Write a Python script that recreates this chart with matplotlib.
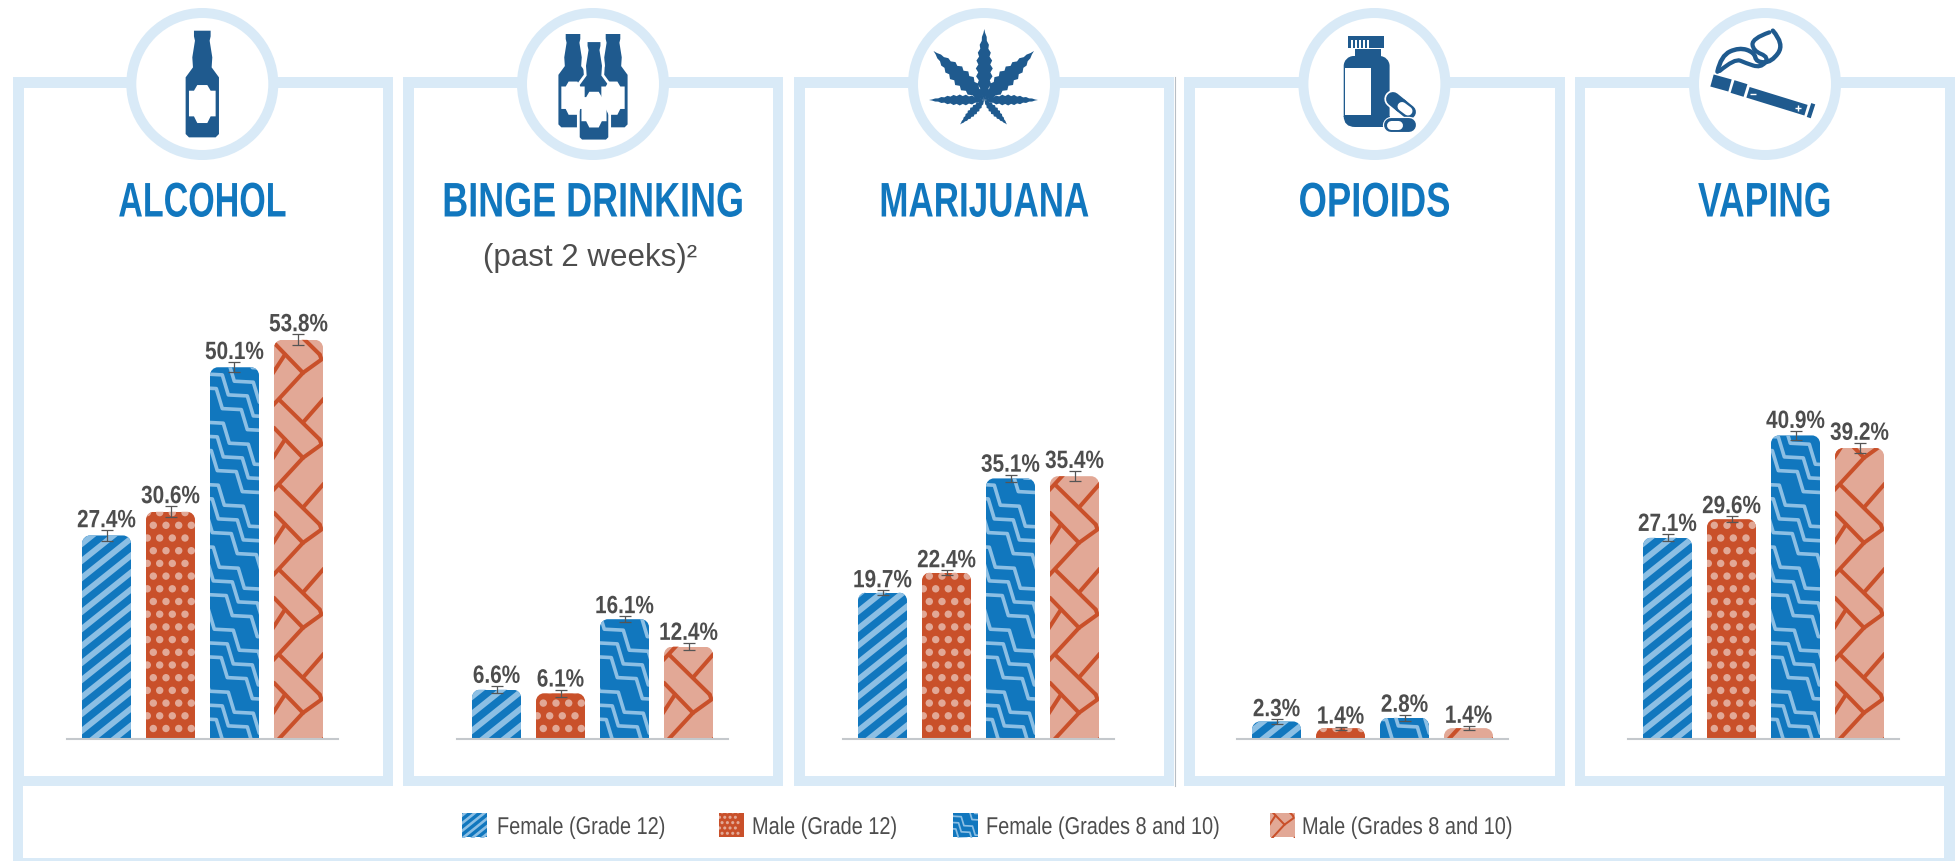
import numpy as np
import matplotlib
matplotlib.use("Agg")
import matplotlib.pyplot as plt
from matplotlib.collections import LineCollection, PatchCollection
from matplotlib.patches import Circle, PathPatch, Rectangle
from matplotlib.path import Path
from matplotlib.patheffects import AbstractPathEffect
from matplotlib.transforms import Affine2D

W, H = 1959, 862

# data
substances = ["ALCOHOL", "BINGE DRINKING", "MARIJUANA", "OPIOIDS", "VAPING"]
series_names = ["Female (Grade 12)", "Male (Grade 12)", "Female (Grades 8 and 10)", "Male (Grades 8 and 10)"]
alcohol = [27.4, 30.6, 50.1, 53.8]
binge = [6.6, 6.1, 16.1, 12.4]
marijuana = [19.7, 22.4, 35.1, 35.4]
opioids = [2.3, 1.4, 2.8, 1.4]
vaping = [27.1, 29.6, 40.9, 39.2]
alcohol_err = [0.7, 0.75, 0.7, 0.75]
binge_err = [0.5, 0.5, 0.4, 0.5]
marijuana_err = [0.3, 0.3, 0.5, 0.7]
opioids_err = [0.3, 0.2, 0.4, 0.3]
vaping_err = [0.5, 0.4, 0.6, 0.7]
values = [alcohol, binge, marijuana, opioids, vaping]
errors = [alcohol_err, binge_err, marijuana_err, opioids_err, vaping_err]

# colours
FRAME = "#D9EAF7"
TITLE = "#1177BE"
ICON = "#1F5A8E"
TEXT = "#4D4D4D"
BLUE = "#1177BE"
LIGHT_BLUE = "#8CBFE4"
RED = "#C9502A"
SALMON = "#E2A896"
AXIS = "#C4C8CC"

plt.rcParams["font.family"] = ["Liberation Sans", "DejaVu Sans"]

# panel layout in pixels
panel_x = [(13, 393), (403, 783), (794, 1174), (1184, 1565), (1574.5, 1955)]
circle_x = [202.3, 593, 984, 1374.4, 1765]
bar_left = [82, 472, 858, 1252, 1643]
title_squeeze = [0.70, 0.74, 0.72, 0.75, 0.73]
BASE_Y = 739.5
PX_PER_PCT = 7.41
BAR_W = 49
BAR_STEP = 64
CORNER = 8

fig = plt.figure(figsize=(W / 100, H / 100), dpi=100, facecolor="white")
px = Affine2D().scale(1, -1).translate(0, H)  # pixel coordinates, y down

bg = fig.add_axes([0, 0, 1, 1])
bg.set_xlim(0, W)
bg.set_ylim(H, 0)
bg.axis("off")


class Squeeze(AbstractPathEffect):
    # narrows the glyphs horizontally, there is no condensed family installed
    def __init__(self, sx, centered=True):
        super().__init__()
        self.sx = sx
        self.centered = centered

    def draw_path(self, renderer, gc, tpath, affine, rgbFace=None):
        ext = tpath.get_extents()
        mid = (ext.x0 + ext.x1) / 2 if self.centered else 0
        narrow = Affine2D().translate(-mid, 0).scale(self.sx, 1).translate(mid, 0)
        renderer.draw_path(gc, tpath, narrow + affine, rgbFace)


def rounded_top(x0, x1, top, base, r):
    r = min(r, base - top)
    k = 0.55 * r
    verts = [(x0, base), (x0, top + r), (x0, top + r - k), (x0 + r - k, top), (x0 + r, top),
             (x1 - r, top), (x1 - r + k, top), (x1, top + r - k), (x1, top + r), (x1, base), (x0, base)]
    codes = [Path.MOVETO, Path.LINETO, Path.CURVE4, Path.CURVE4, Path.CURVE4,
             Path.LINETO, Path.CURVE4, Path.CURVE4, Path.CURVE4, Path.LINETO, Path.CLOSEPOLY]
    return Path(verts, codes)


def add_lines(ax, segs, color, lw, clip, z, cap="butt"):
    lc = LineCollection(segs, colors=color, linewidths=lw, transform=px, zorder=z,
                        capstyle=cap, joinstyle="round")
    ax.add_collection(lc, autolim=False)
    lc.set_clip_path(clip, px)


def stripes(ax, x0, x1, top, base, clip, s=1.0, z=2.5):
    period = 17 * s
    slope = 0.8
    span = x1 - x0 + 10
    segs = []
    y = base + span * slope
    while y > top - 5:
        segs.append([(x0 - 5, y), (x1 + 5, y - span * slope)])
        y -= period
    add_lines(ax, segs, LIGHT_BLUE, 4.2 * s, clip, z)


def dots(ax, x0, x1, top, base, clip, s=1.0, z=2.5):
    rows_a = [7.3, 20, 32.7, 45.3]
    rows_b = [1.3, 13.7, 26.3, 39]
    circles = []
    row = 0
    y = base - 10 * s
    while y > top - 5:
        for dx in (rows_a if row % 2 == 0 else rows_b):
            if x0 + dx * s < x1 + 4:
                circles.append(Circle((x0 + dx * s, y), 3.7 * s))
        y -= 12.7 * s
        row += 1
    pc = PatchCollection(circles, facecolor=SALMON, edgecolor="none", transform=px, zorder=z)
    ax.add_collection(pc, autolim=False)
    pc.set_clip_path(clip, px)


def zigzag(ax, x0, x1, top, base, clip, s=1.0, z=2.5):
    segs = []
    n_groups = int((base - top) / (62 * s)) + 4
    for g in range(-2, n_groups):
        for line in range(3):
            cx = 18.3 - 6 * line + 5 * g
            cy = -108.3 + 13.7 * line - 62 * g + 62
            pts = []
            for n in range(-5, 6):
                px0, py0 = cx + 25 * n, cy + 21 * n
                pts += [(px0, py0), (px0 + 6, py0 + 20)]
            segs.append([(x0 + a * s, base + b * s) for a, b in pts])
    add_lines(ax, segs, LIGHT_BLUE, 2.5 * s + 0.1, clip, z)


# one herringbone tile of the brick fill, measured from the bar's left edge
brick_tile = [
    [(5, 10), (45.7, 50)],
    [(0, 38.3), (29, 68.3)],
    [(45.7, 50), (47.5, 55), (29, 68.3)],
    [(29, 33), (50, 9)],
    [(29, 68.3), (-3.3, 103.3)],
    [(11, 50), (-2, 70)],
]


def bricks(ax, x0, x1, top, base, clip, s=1.0, z=2.5):
    segs = []
    for k in range(-1, int((base - top) / (85 * s)) + 3):
        for seg in brick_tile:
            segs.append([(x0 + a * s, base + (b - 9 - 85 * k) * s) for a, b in seg])
    add_lines(ax, segs, RED, 2.9 * max(s, 0.5), clip, z, cap="round")


fills = [(BLUE, stripes), (RED, dots), (BLUE, zigzag), (SALMON, bricks)]


# frames
for x0, x1 in panel_x:
    bg.add_patch(Rectangle((x0, 78), x1 - x0, 787 - 78, fc=FRAME, ec="none", zorder=1))
    bg.add_patch(Rectangle((x0 + 10.5, 89), x1 - x0 - 21, 777 - 89, fc="white", ec="none", zorder=1.1))
bg.add_patch(Rectangle((13, 787), 1955 - 13, H - 787, fc=FRAME, ec="none", zorder=1))
bg.add_patch(Rectangle((23, 787), 1944 - 23, 859 - 787, fc="white", ec="none", zorder=1.1))
bg.plot([1174.5, 1174.5], [78, 787], color="#B8BEC4", lw=0.8, zorder=1.2)
for cx in circle_x:
    bg.add_patch(Circle((cx, 85), 71, fc="white", ec=FRAME, lw=7.2, zorder=1.5))


# icons
def bottle(x, top, s, halo=False):
    half = [(-25, 0), (-25, 17), (-22, 30), (-30, 80), (-28, 110), (-50, 140), (-50, 310), (-40, 320)]
    pts = half + [(-a, b) for a, b in half[::-1]]
    verts = [(x + a * s / 3, top + b * s / 3) for a, b in pts]
    bg.add_patch(plt.Polygon(verts, closed=True, fc=ICON, ec="white" if halo else "none",
                             lw=2 if halo else 0, zorder=3))
    label = [(-40, 180), (-25, 180), (-15, 163), (15, 163), (25, 180), (40, 180),
             (40, 257), (25, 257), (15, 277), (-15, 277), (-25, 257), (-40, 257)]
    bg.add_patch(plt.Polygon([(x + a * s / 3, top + b * s / 3) for a, b in label], closed=True,
                             fc="white", ec="none", zorder=3.1))


def leaflet(cx, cy, tip_x, tip_y, half_w):
    dx, dy = tip_x - cx, tip_y - cy
    length = np.hypot(dx, dy)
    ux, uy = dx / length, dy / length
    nx, ny = -uy, ux
    teeth = 9
    side_a, side_b = [], []
    for i in range(teeth * 2 + 1):
        t = i / (teeth * 2)
        w = half_w * np.sin(np.pi * t ** 0.8) * (1.0 if i % 2 == 0 else 0.72)
        d = length * t
        side_a.append((cx + ux * d + nx * w, cy + uy * d + ny * w))
        side_b.append((cx + ux * d - nx * w, cy + uy * d - ny * w))
    bg.add_patch(plt.Polygon(side_a + side_b[::-1], closed=True, fc=ICON, ec="none", zorder=3))


def smooth_line(points, lw):
    verts = [points[0]]
    codes = [Path.MOVETO]
    for a, b in zip(points[1:-1], points[2:]):
        verts += [a, ((a[0] + b[0]) / 2, (a[1] + b[1]) / 2)]
        codes += [Path.CURVE3, Path.CURVE3]
    verts[-1] = points[-1]
    bg.add_patch(PathPatch(Path(verts, codes), fc="none", ec=ICON, lw=lw, capstyle="round", zorder=3))


bottle(202.3, 31.7, 1.0)
bottle(573, 35, 0.875)
bottle(613, 35, 0.875)
bottle(594, 41.7, 0.94, halo=True)

leaf_x, leaf_y = 984.3, 101
for tx, ty, hw in [(984.3, 30, 8.5), (1034, 52, 9.5), (933.5, 52, 9.5), (1038, 101, 5.5),
                   (929, 101, 5.5), (1007, 125.5, 4.5), (960, 125.5, 4.5)]:
    leaflet(leaf_x, leaf_y, tx, ty, hw)

# pill bottle
bg.add_patch(Rectangle((1348.4, 37), 35.6, 12, fc=ICON, ec="none", zorder=3))
for tick_x in [1351, 1355, 1359, 1363, 1367]:
    bg.add_patch(Rectangle((tick_x, 41), 1.6, 8, fc="white", ec="none", zorder=3.1))
bg.add_patch(Rectangle((1354.5, 50), 26, 8, fc=ICON, ec="none", zorder=3))
bg.add_patch(PathPatch(rounded_top(1343.7, 1389.6, 57, 118, 10), fc=ICON, ec="none", zorder=3))
bg.add_patch(PathPatch(Path([(1343.7, 117), (1343.7, 128), (1355, 128), (1389.6, 128), (1389.6, 117), (1343.7, 117)],
                            [Path.MOVETO, Path.CURVE3, Path.CURVE3, Path.LINETO, Path.LINETO, Path.CLOSEPOLY]),
                       fc=ICON, ec="none", zorder=3))
bg.add_patch(Rectangle((1345, 69), 26, 47, fc="white", ec="none", zorder=3.1))
bg.plot([1393, 1409], [100, 113], color="white", lw=12.5, solid_capstyle="round", zorder=3.2)
bg.plot([1393, 1401], [100, 106.5], color=ICON, lw=10, solid_capstyle="round", zorder=3.3)
bg.plot([1401, 1409], [106.5, 113], color=ICON, lw=10, solid_capstyle="round", zorder=3.3)
bg.plot([1402, 1408], [107.5, 112], color="white", lw=6.5, solid_capstyle="round", zorder=3.4)
bg.plot([1391, 1409], [126, 126], color="white", lw=12.5, solid_capstyle="round", zorder=3.5)
bg.plot([1391, 1409], [126, 126], color=ICON, lw=10, solid_capstyle="round", zorder=3.6)
bg.plot([1391, 1398], [126, 126], color="white", lw=6.5, solid_capstyle="round", zorder=3.7)

# vape pen and smoke
bg.plot([1712, 1730], [81.5, 86.5], color=ICON, lw=9, solid_capstyle="butt", zorder=3)
bg.plot([1732.5, 1745.5], [87.5, 91.5], color=ICON, lw=9.5, solid_capstyle="butt", zorder=3)
bg.plot([1748, 1806], [93.3, 111.2], color=ICON, lw=8, solid_capstyle="butt", zorder=3)
bg.plot([1809, 1813], [111, 112.3], color=ICON, lw=10.5, solid_capstyle="butt", zorder=3)
bg.plot([1753.4], [94.5], marker="_", ms=4, mew=1, color="white", zorder=3.1)
bg.plot([1798.4], [108.5], marker="+", ms=4, mew=1, color="white", zorder=3.1)
smoke_a = [(1010, 218), (1018, 170), (1060, 145), (1095, 160), (1100, 190), (1135, 190), (1165, 135), (1138, 95)]
smoke_b = [(1015, 216), (1050, 178), (1075, 192), (1110, 207), (1130, 175), (1092, 155), (1090, 118), (1130, 100)]
smooth_line([(1280 + a / 2.309, b / 3) for a, b in smoke_a], 3.2)
smooth_line([(1280 + a / 2.309, b / 3) for a, b in smoke_b], 3.0)

# titles
for name, cx, sq in zip(substances, circle_x, title_squeeze):
    bg.text(cx, 217.5, name, color=TITLE, fontsize=35, fontweight="bold", ha="center", va="baseline",
            zorder=4, path_effects=[Squeeze(sq)])
bg.text(590, 266, "(past 2 weeks)²", color=TEXT, fontsize=22.5, ha="center", va="baseline", zorder=4)

# bar panels
centers = np.arange(4)
for i, left in enumerate(bar_left):
    first = left + BAR_W / 2
    ax = fig.add_axes([(first - 39.5) / W, 1 - BASE_Y / H, 271 / W, 639 / H], zorder=2)
    ax.patch.set_visible(False)
    ax.set_xlim(-39.5 / BAR_STEP, 3 + 39.5 / BAR_STEP)
    ax.set_ylim(0, 639 / PX_PER_PCT)
    for side in ["top", "left", "right"]:
        ax.spines[side].set_visible(False)
    ax.spines["bottom"].set_color(AXIS)
    ax.spines["bottom"].set_linewidth(1.5)
    ax.set_xticks([])
    ax.set_yticks([])

    rects = ax.bar(centers, values[i], width=BAR_W / BAR_STEP,
                   color=[f[0] for f in fills], linewidth=0, zorder=2)
    for rect, (color, fill) in zip(rects, fills):
        (dx0, dy1), (dx1, dy0) = ax.transData.transform(
            [(rect.get_x(), rect.get_height()), (rect.get_x() + rect.get_width(), 0)])
        x0, x1, top, base = dx0, dx1, H - dy1, H - dy0
        clip = rounded_top(x0, x1, top, base, CORNER)
        rect.set_clip_path(clip, px)
        fill(ax, x0, x1, top, base, clip)

    ax.errorbar(centers, values[i], yerr=errors[i], fmt="none", ecolor="#555555",
                elinewidth=0.9, capsize=4.2, capthick=0.9, zorder=4)
    for c, v, e in zip(centers, values[i], errors[i]):
        ax.annotate(f"{v:.1f}%", (c, v + e), xytext=(0, 2.2), textcoords="offset points",
                    ha="center", va="baseline", fontsize=18, fontweight="bold", color=TEXT, zorder=5,
                    path_effects=[Squeeze(0.83)])

# legend row
swatch_x = [462, 719, 953, 1270]
label_x = [497, 752, 986, 1302]
swatch_scale = [0.45, 0.42, 0.45, 0.5]
for sx, lx, name, (color, fill), s in zip(swatch_x, label_x, series_names, fills, swatch_scale):
    bg.add_patch(Rectangle((sx, 814), 25, 24.5, fc=color, ec="none", zorder=3))
    clip = Path([(sx, 838.5), (sx, 814), (sx + 25, 814), (sx + 25, 838.5), (sx, 838.5)], closed=True)
    fill(bg, sx, sx + 25, 814, 838.5, clip, s=s, z=3.5)
    bg.text(lx, 835, name, color=TEXT, fontsize=17.5, ha="left", va="baseline", zorder=4,
            path_effects=[Squeeze(0.82, centered=False)])

fig.savefig("out.png", dpi=100, facecolor="white")
